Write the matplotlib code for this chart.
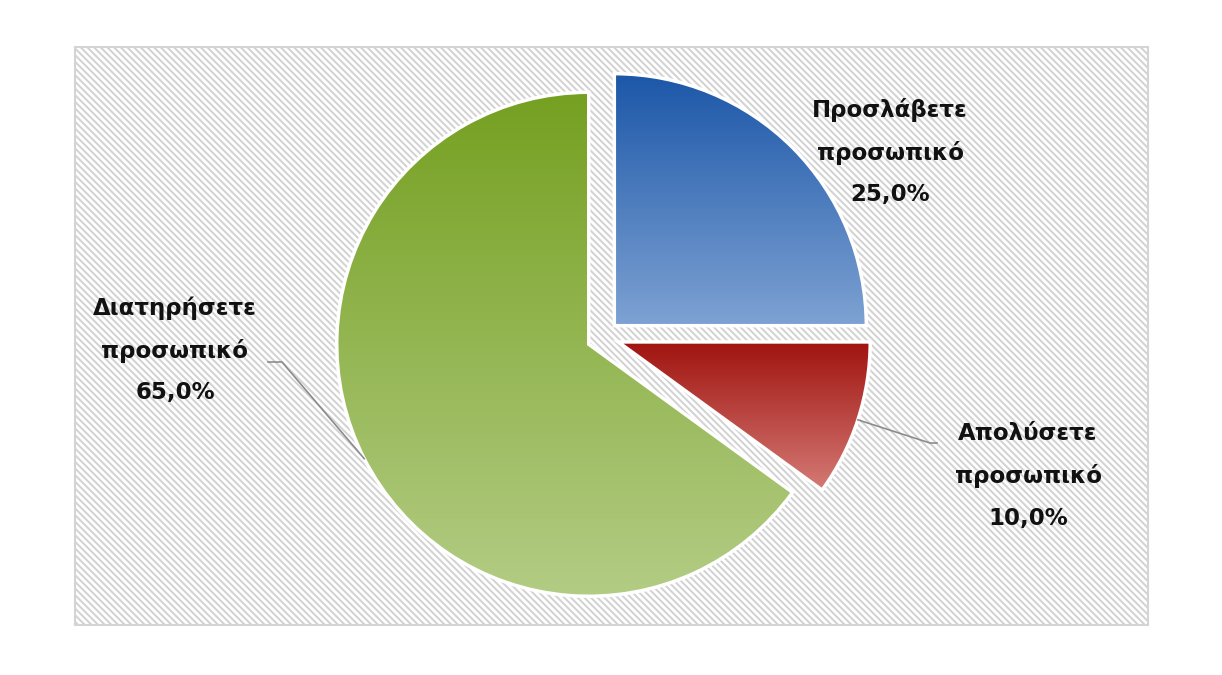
import numpy as np
import matplotlib
matplotlib.use("Agg")
import matplotlib.pyplot as plt
from matplotlib.patches import Rectangle
from matplotlib.colors import LinearSegmentedColormap

# Δεδομένα
labels = ["Προσλάβετε\nπροσωπικό", "Απολύσετε\nπροσωπικό", "Διατηρήσετε\nπροσωπικό"]
values = [25.0, 10.0, 65.0]
top_colors = ["#1c57a8", "#a0130f", "#75a021"]
bottom_colors = ["#7ea2d3", "#d47a75", "#b3cc84"]

plt.rcParams["font.family"] = ["DejaVu Sans"]
plt.rcParams["hatch.linewidth"] = 1.4

fig = plt.figure(figsize=(12.22, 6.75), dpi=100)
W, H = 1222, 675
# plot area in pixel coords
x0, y0, x1, y1 = 75, 47, 1148, 625
ax = fig.add_axes([x0 / W, 1 - y1 / H, (x1 - x0) / W, (y1 - y0) / H])
aw, ah = x1 - x0, y1 - y0

# hatched background
bg = Rectangle((0, 0), 1, 1, transform=ax.transAxes, facecolor="white",
               edgecolor="#d2d2d2", hatch="\\\\\\\\\\", linewidth=0, zorder=0)
ax.add_patch(bg)

cx, cy = 528, 288
r = 252
wedges, _ = ax.pie(values, startangle=90, counterclock=False, center=(cx, cy),
                   radius=r, explode=[16, 16, 16], frame=True,
                   wedgeprops=dict(edgecolor="white", linewidth=2.5))

# gradient fill
for w, ct, cb in zip(wedges, top_colors, bottom_colors):
    w.set_facecolor("none")
    ext = w.get_path().get_extents()
    cmap = LinearSegmentedColormap.from_list("g", [ct, cb])
    grad = np.linspace(0, 1, 256).reshape(-1, 1)
    im = ax.imshow(grad, cmap=cmap, aspect="auto", origin="upper",
                   extent=[ext.x0, ext.x1, ext.y0, ext.y1], zorder=1)
    im.set_clip_path(w)
    w.set_zorder(2)

# labels
text_pos = [(815, 473), (953, 149), (100, 275)]
for w, lab, v, (tx, ty) in zip(wedges, labels, values, text_pos):
    s = lab + "\n" + f"{v:.1f}".replace(".", ",") + "%"
    ax.text(tx, ty, s, ha="center", va="center", fontsize=16.5, fontweight="bold",
            linespacing=2.0, color="#111111", zorder=5)

# leader lines
def anchor(w):
    th = np.deg2rad((w.theta1 + w.theta2) / 2)
    return w.center[0] + w.r * np.cos(th), w.center[1] + w.r * np.sin(th)

ax_, ay_ = anchor(wedges[1])
ax.plot([ax_, 855, 862], [ay_, 182, 182], color="#8c8c8c", lw=1.2, zorder=4)
gx, gy = anchor(wedges[2])
ax.plot([gx, 207, 193], [gy, 263, 263], color="#8c8c8c", lw=1.2, zorder=4)

ax.set_xlim(0, aw)
ax.set_ylim(0, ah)
ax.set_aspect("auto")
ax.set_xticks([])
ax.set_yticks([])
for sp in ax.spines.values():
    sp.set_color("#d4d4d4")
    sp.set_linewidth(1.5)

fig.savefig("out.png", dpi=100, facecolor="white")
